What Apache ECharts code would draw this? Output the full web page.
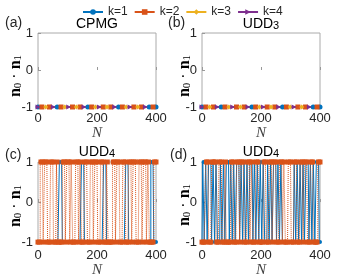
<!DOCTYPE html>
<html><head><meta charset="utf-8">
<script src="https://cdn.jsdelivr.net/npm/echarts@6/dist/echarts.min.js"></script>
<style>html,body{margin:0;padding:0;background:#fff}#c{width:341px;height:279px}</style>
</head><body><div id="c"></div>
<script>
// ---------- data ----------
const seriesNames = ['k=1', 'k=2', 'k=3', 'k=4'];
const xTicks = [0, 200, 400];
const yTicks = [-1, 0, 1];
const panelTitles = ['CPMG', 'UDD3', 'UDD4', 'UDD4'];
const panelTags = ['(a)', '(b)', '(c)', '(d)'];

// panels (a), (b): all pulses keep n0·n1 = -1 (marker positions along N)
const flatN_k1 = [0, 65, 169, 273, 377, 400];
const flatV_k1 = [-1, -1, -1, -1, -1, -1];
const flatN_k2 = [13, 39, 78, 117, 143, 182, 221, 247, 286, 325, 351, 390];
const flatV_k2 = [-1, -1, -1, -1, -1, -1, -1, -1, -1, -1, -1, -1];
const flatN_k3 = [26, 91, 130, 195, 234, 299, 338];
const flatV_k3 = [-1, -1, -1, -1, -1, -1, -1];
const flatN_k4 = [0, 52, 104, 156, 208, 260, 312, 364];
const flatV_k4 = [-1, -1, -1, -1, -1, -1, -1, -1];

// panels (c), (d): sampled N grid
const gridN = [0,5,10,15,20,25,30,35,40,45,
  50,55,60,65,70,75,80,85,90,95,
  100,105,110,115,120,125,130,135,140,145,
  150,155,160,165,170,175,180,185,190,195,
  200,205,210,215,220,225,230,235,240,245,
  250,255,260,265,270,275,280,285,290,295,
  300,305,310,315,320,325,330,335,340,345,
  350,355,360,365,370,375,380,385,390,395,
  400];
const c_k1 = [-1,-1,-1,-1,-1,-1,-1,-1,-1,-1,
  -1,-1,-1,-1,-1,1,1,-1,-1,-1,
  -1,-1,-1,-1,-1,-1,-1,-1,-1,-1,
  1,1,-1,-1,-1,-1,-1,-1,-1,-1,
  -1,-1,-1,-1,-1,1,1,-1,-1,-1,
  -1,-1,-1,-1,-1,-1,-1,-1,-1,-1,
  1,1,-1,-1,-1,-1,-1,-1,-1,-1,
  -1,-1,-1,-1,-1,-1,-1,1,1,-1,
  -1];
const c_k2 = [-1,-1,1,1,-1,1,1,-1,-1,1,
  1,-1,-1,1,-1,-1,-1,1,1,-1,
  1,1,-1,1,-1,-1,1,1,-1,1,
  -1,-1,1,1,-1,-1,1,1,-1,1,
  1,-1,-1,1,1,-1,-1,1,-1,-1,
  -1,1,1,-1,1,1,-1,-1,1,1,
  -1,-1,1,1,-1,1,1,-1,-1,1,
  1,-1,1,1,-1,1,-1,-1,-1,1,
  1];
const d_k1 = [-1,1,-1,1,-1,1,1,-1,1,-1,
  1,-1,-1,1,-1,1,-1,1,1,-1,
  1,-1,1,-1,1,1,-1,1,-1,1,
  -1,1,-1,1,1,-1,1,-1,1,-1,
  1,-1,1,-1,-1,1,-1,1,-1,1,
  1,-1,1,-1,1,-1,-1,-1,-1,-1,
  -1,-1,-1,1,-1,1,-1,1,-1,1,
  -1,1,1,-1,1,-1,1,-1,1,1,
  -1];
const d_k2 = [-1,-1,-1,1,1,-1,-1,1,1,1,
  -1,-1,1,1,-1,-1,1,-1,-1,-1,
  1,1,-1,-1,1,1,-1,1,1,-1,
  -1,1,1,-1,1,-1,-1,1,1,-1,
  -1,-1,1,1,-1,-1,1,1,-1,1,
  1,-1,-1,1,1,-1,1,-1,-1,1,
  1,-1,-1,1,1,-1,-1,1,1,-1,
  1,1,-1,-1,1,1,-1,-1,-1,1,
  1];

// ---------- styling ----------
const colors = ['#0072BD', '#D95319', '#EDB120', '#7E2F8E'];
const symbols = ['circle', 'rect', 'diamond', 'triangle'];
const symRot = [0, 0, 0, -90];
const grids = [
  {left: 38, top: 33, width: 118, height: 74},
  {left: 202, top: 33, width: 118, height: 74},
  {left: 38, top: 162, width: 118, height: 81},
  {left: 202, top: 162, width: 118, height: 81}
];
const sans = 'Liberation Sans, Arial, sans-serif';
const serif = 'Liberation Serif, Times New Roman, serif';
const txt = '#262626';

const zip = (xs, ys) => xs.map((x, i) => [x, ys[i]]);

const xAxis = grids.map((g, i) => ({
  type: 'value', gridIndex: i, min: xTicks[0], max: xTicks[2], interval: xTicks[1] - xTicks[0],
  axisLine: {show: false}, splitLine: {show: false},
  axisTick: {show: true, inside: true, length: 3, lineStyle: {color: '#999'}},
  axisLabel: {fontSize: 13, color: txt, fontFamily: sans, margin: i < 2 ? 5 : 7},
  name: 'N', nameLocation: 'middle', nameGap: i < 2 ? 18 : 20,
  nameTextStyle: {fontFamily: serif, fontStyle: 'italic', fontSize: 15, color: '#444'}
}));
const yAxis = grids.map((g, i) => ({
  type: 'value', gridIndex: i, min: yTicks[0], max: yTicks[2], interval: yTicks[1] - yTicks[0],
  axisLine: {show: false}, splitLine: {show: false},
  axisTick: {show: true, inside: true, length: 3, lineStyle: {color: '#999'}},
  axisLabel: {fontSize: 13, color: txt, fontFamily: sans, margin: 5}
}));

const flatSets = [[flatN_k1, flatV_k1], [flatN_k2, flatV_k2], [flatN_k3, flatV_k3], [flatN_k4, flatV_k4]];
const series = [];
[0, 1].forEach(p => {
  flatSets.forEach((s, k) => {
    series.push({
      type: 'line', name: seriesNames[k], xAxisIndex: p, yAxisIndex: p,
      data: zip(s[0], s[1]), symbol: symbols[k], symbolRotate: symRot[k],
      symbolSize: 5, clip: false, color: colors[k],
      itemStyle: {color: colors[k], borderWidth: 0},
      lineStyle: {width: 1, color: colors[k]}
    });
  });
});
[[2, c_k1, c_k2], [3, d_k1, d_k2]].forEach(([p, a1, a2]) => {
  series.push({
    type: 'line', name: seriesNames[0], xAxisIndex: p, yAxisIndex: p, step: 'middle',
    data: zip(gridN, a1), symbol: 'circle', symbolSize: 4, clip: false,
    itemStyle: {color: colors[0], borderWidth: 0},
    lineStyle: {width: 1, color: colors[0]}
  });
  series.push({
    type: 'line', name: seriesNames[1], xAxisIndex: p, yAxisIndex: p, step: 'middle',
    data: zip(gridN, a2), symbol: 'rect', symbolSize: 5, clip: false,
    itemStyle: {color: colors[1], borderWidth: 0},
    lineStyle: {width: 1, color: colors[1], type: 'dotted'}
  });
});

// ---------- text graphics ----------
const titleRich = {
  n: {fontSize: 14, fontFamily: sans, color: txt, lineHeight: 16, verticalAlign: 'bottom'},
  s: {fontSize: 11, fontFamily: sans, color: txt, lineHeight: 12, verticalAlign: 'bottom'}
};
const titlePos = [[97, 23], [261, 23], [97, 151], [261, 151]];
const tagPos = [[5, 23], [168, 23], [5, 155], [170, 155]];
const ylabPos = [[15, 76], [184, 76], [15, 206], [184, 205]];
const graphic = [];
panelTitles.forEach((t, i) => {
  const m = t.match(/^([A-Za-z]+)(\d*)$/);
  const text = m[2] ? '{n|' + m[1] + '}{s|' + m[2] + '}' : '{n|' + m[1] + '}';
  graphic.push({type: 'text', x: titlePos[i][0], y: titlePos[i][1],
    style: {text: text, rich: titleRich, align: 'center', verticalAlign: 'middle'}});
  graphic.push({type: 'text', x: tagPos[i][0], y: tagPos[i][1],
    style: {text: panelTags[i], font: '14px ' + sans, fill: txt, align: 'left', verticalAlign: 'middle'}});
  graphic.push({type: 'text', x: ylabPos[i][0], y: ylabPos[i][1], rotation: Math.PI / 2,
    style: {text: '{b|n}{s|0}{m| · }{b|n}{s|1}', align: 'center', verticalAlign: 'middle',
      rich: {
        b: {fontSize: 16, fontWeight: 'bold', fontFamily: serif, color: '#333', lineHeight: 18, verticalAlign: 'bottom'},
        s: {fontSize: 11, fontFamily: serif, color: '#333', lineHeight: 12, verticalAlign: 'bottom'},
        m: {fontSize: 16, fontFamily: serif, color: '#333', lineHeight: 18, verticalAlign: 'bottom'}
      }}});
});

const chart = echarts.init(document.getElementById('c'), null, {renderer: 'canvas'});
chart.setOption({
  animation: false,
  backgroundColor: '#fff',
  grid: grids.map(g => Object.assign({show: true, borderColor: '#aaa', borderWidth: 1, backgroundColor: 'transparent'}, g)),
  legend: {
    data: seriesNames, top: 1, left: 77, itemWidth: 20, itemHeight: 7, itemGap: 6,
    textStyle: {fontSize: 12, color: txt, fontFamily: sans}
  },
  xAxis: xAxis, yAxis: yAxis, series: series, graphic: graphic
});
</script></body></html>
